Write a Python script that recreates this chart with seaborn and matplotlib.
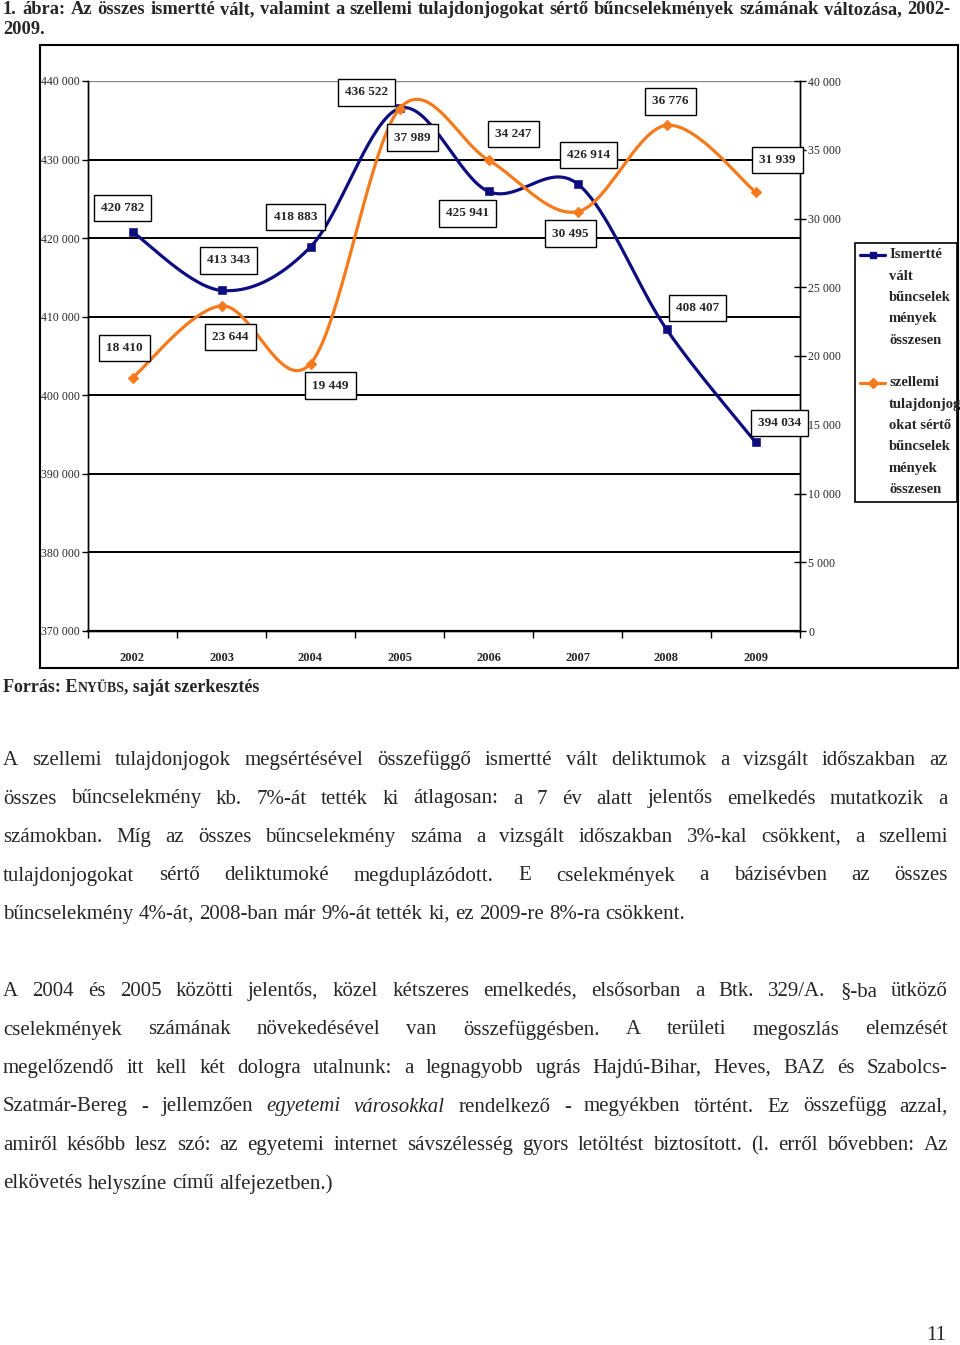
import numpy as np
import pandas as pd
import matplotlib
matplotlib.use("Agg")
import matplotlib.pyplot as plt
import seaborn as sns
from matplotlib.patches import Rectangle
from matplotlib.lines import Line2D
from matplotlib.ticker import MultipleLocator, FuncFormatter, FixedLocator
from matplotlib.transforms import IdentityTransform

# adatok
years = ["2002", "2003", "2004", "2005", "2006", "2007", "2008", "2009"]
osszes = [420782, 413343, 418883, 436522, 425941, 426914, 408407, 394034]
szellemi = [18410, 23644, 19449, 37989, 34247, 30495, 36776, 31939]

nev_osszes = ["Ismertté", "vált", "bűncselek", "mények", "összesen"]
nev_szellemi = ["szellemi", "tulajdonjog", "okat sértő", "bűncselek", "mények", "összesen"]

cim = ["1. ábra: Az összes ismertté vált, valamint a szellemi tulajdonjogokat sértő bűncselekmények számának változása, 2002-",
       "2009."]

bekezdes1 = [
    "A szellemi tulajdonjogok megsértésével összefüggő ismertté vált deliktumok a vizsgált időszakban az",
    "összes bűncselekmény kb. 7%-át tették ki átlagosan: a 7 év alatt jelentős emelkedés mutatkozik a",
    "számokban. Míg az összes bűncselekmény száma a vizsgált időszakban 3%-kal csökkent, a szellemi",
    "tulajdonjogokat sértő deliktumoké megduplázódott. E cselekmények a bázisévben az összes",
    "bűncselekmény 4%-át, 2008-ban már 9%-át tették ki, ez 2009-re 8%-ra csökkent.",
]
bekezdes2 = [
    "A 2004 és 2005 közötti jelentős, közel kétszeres emelkedés, elsősorban a Btk. 329/A. §-ba ütköző",
    "cselekmények számának növekedésével van összefüggésben. A területi megoszlás elemzését",
    "megelőzendő itt kell két dologra utalnunk: a legnagyobb ugrás Hajdú-Bihar, Heves, BAZ és Szabolcs-",
    "Szatmár-Bereg - jellemzően _egyetemi _városokkal rendelkező - megyékben történt. Ez összefügg azzal,",
    "amiről később lesz szó: az egyetemi internet sávszélesség gyors letöltést biztosított. (l. erről bővebben: Az",
    "elkövetés helyszíne című alfejezetben.)",
]

KEK = "#0d0d80"
NARANCS = "#f57a1c"
SERIF = "Liberation Serif"

sns.set_theme(style="white")
plt.rcParams["font.family"] = [SERIF, "DejaVu Serif"]

W, H = 960, 1345
fig = plt.figure(figsize=(W / 100, H / 100), dpi=100)
fig.patch.set_facecolor("white")


def fx(x):
    return x / W


def fy(y):
    return 1 - y / H


def sima(vals, n=40):
    # Excel-szeru simitott vonal (Bezier, 1/6-os feszesseg)
    p = np.column_stack([np.arange(len(vals), dtype=float), np.asarray(vals, float)])
    ext = np.vstack([p[0], p, p[-1]])
    out = []
    t = np.linspace(0, 1, n, endpoint=False)[:, None]
    for i in range(len(p) - 1):
        p0, p1, p2, p3 = ext[i], ext[i + 1], ext[i + 2], ext[i + 3]
        b1 = p1 + (p2 - p0) / 6
        b2 = p2 - (p3 - p1) / 6
        out.append((1 - t) ** 3 * p1 + 3 * (1 - t) ** 2 * t * b1 + 3 * (1 - t) * t ** 2 * b2 + t ** 3 * p2)
    out.append(p[-1:])
    return np.vstack(out)


ax = fig.add_axes([fx(88), fy(631), fx(800) - fx(88), fy(81) - fy(631)])
ax2 = ax.twinx()

g1 = sima(osszes)
g2 = sima(szellemi)
sns.lineplot(x=g1[:, 0], y=g1[:, 1], ax=ax, color=KEK, lw=2.3, sort=False, estimator=None, zorder=3)
sns.lineplot(x=g2[:, 0], y=g2[:, 1], ax=ax2, color=NARANCS, lw=2.3, sort=False, estimator=None, zorder=3)
df = pd.DataFrame({"ev": range(len(years)), "osszes": osszes, "szellemi": szellemi})
sns.scatterplot(data=df, x="ev", y="osszes", ax=ax, color=KEK, marker="s", s=30, edgecolor=KEK, zorder=4)
sns.scatterplot(data=df, x="ev", y="szellemi", ax=ax2, color=NARANCS, marker="D", s=30, edgecolor=NARANCS, zorder=4)

ax.set_xlim(-0.5, 7.5)
ax.set_ylim(370000, 440000)
ax2.set_ylim(0, 40000)
ezer = FuncFormatter(lambda v, p: f"{int(v):,}".replace(",", " "))
ax.yaxis.set_major_locator(MultipleLocator(10000))
ax.yaxis.set_major_formatter(ezer)
ax2.yaxis.set_major_locator(MultipleLocator(5000))
ax2.yaxis.set_major_formatter(ezer)
ax.grid(axis="y", color="black", lw=1.4)
ax.grid(axis="x", visible=False)
ax2.grid(False)
ax.set_xticks(range(len(years)))
ax.set_xticklabels(years, fontweight="bold", fontsize=9)
ax.xaxis.set_minor_locator(FixedLocator(np.arange(-0.5, 8, 1)))
ax.tick_params(axis="x", which="major", length=0, pad=15)
ax.tick_params(axis="x", which="minor", length=5, width=1, direction="out", color="black", bottom=True)
ax.tick_params(axis="y", length=4, width=1, direction="out", color="black", labelsize=8.5, left=True, pad=2)
ax2.tick_params(axis="y", length=8, width=1, direction="inout", color="black", labelsize=8.5, right=True, pad=2)
ax.set_xlabel("")
ax.set_ylabel("")
ax2.set_ylabel("")
for a in (ax, ax2):
    a.spines["top"].set_visible(False)
    for s in ("left", "right", "bottom"):
        a.spines[s].set_color("black")
        a.spines[s].set_linewidth(1.0)
    a.patch.set_visible(False)
ax.spines["bottom"].set_linewidth(1.6)
fig.canvas.draw()
for gl, v in zip(ax.get_ygridlines(), ax.get_yticks()):
    if v >= 440000:
        gl.set_color("#888888")
        gl.set_linewidth(1.0)

# adatfeliratok (eltolas pixelben), mind a felso tengelyen, hogy a tengelyvonal felett legyenek
elt_osszes = [(-10, 24), (7, 30), (-15, 30), (-33, 16), (-21, -22), (11, 29), (31, 21), (24, 19)]
elt_szellemi = [(-8, 30), (9, -31), (20, -22), (13, -29), (25, 26), (-7, -22), (4, 24), (22, 32)]
doboz = dict(boxstyle="square,pad=0.55", fc="white", ec="black", lw=1)
for i in range(len(years)):
    ax2.annotate(f"{osszes[i]:,}".replace(",", " "), (i, osszes[i]), xycoords=ax.transData,
                 xytext=elt_osszes[i], textcoords="offset pixels", ha="center", va="center",
                 fontsize=9.5, fontweight="bold", bbox=doboz, zorder=6, annotation_clip=False)
    ax2.annotate(f"{szellemi[i]:,}".replace(",", " "), (i, szellemi[i]), xytext=elt_szellemi[i],
                 textcoords="offset pixels", ha="center", va="center", fontsize=9.5,
                 fontweight="bold", bbox=doboz, zorder=6, annotation_clip=False)

# kulso keret
fig.patches.append(Rectangle((fx(40), fy(668)), fx(958) - fx(40), fy(45) - fy(668),
                             transform=fig.transFigure, fill=False, ec="black", lw=1.5))

# jelmagyarazat
fig.patches.append(Rectangle((fx(855), fy(502)), fx(957) - fx(855), fy(243) - fy(502),
                             transform=fig.transFigure, fc="white", ec="black", lw=1.2))
for nev, y0, szin, jel in ((nev_osszes, 255, KEK, "s"), (nev_szellemi, 383, NARANCS, "D")):
    fig.add_artist(Line2D([fx(860), fx(885)], [fy(y0), fy(y0)], transform=fig.transFigure,
                          color=szin, lw=2.3))
    fig.add_artist(Line2D([fx(872.5)], [fy(y0)], transform=fig.transFigure,
                          color=szin, marker=jel, ms=5, ls="none"))
    for k, sor in enumerate(nev):
        fig.text(fx(889), fy(y0 + k * 21.3), sor, fontsize=10.5, fontweight="bold",
                 ha="left", va="center")

# szoveg
renderer = fig.canvas.get_renderer()


def szelesseg(s, size, weight="normal", style="normal"):
    t = fig.text(0, 0, s, fontsize=size, fontweight=weight, fontstyle=style)
    w = t.get_window_extent(renderer).width
    t.remove()
    return w


def sor(y, text, x0, x1, size, weight="normal", justify=True):
    szavak = []
    for w in text.split(" "):
        if w.startswith("_"):
            szavak.append((w[1:], "italic"))
        else:
            szavak.append((w, "normal"))
    ws = [szelesseg(w, size, weight, st) for w, st in szavak]
    space = szelesseg("a a", size, weight) - szelesseg("aa", size, weight)
    if justify and len(szavak) > 1:
        gap = (x1 - x0 - sum(ws)) / (len(szavak) - 1)
    else:
        gap = space
    x = x0
    for (w, st), wi in zip(szavak, ws):
        fig.text(x, H - y, w, fontsize=size, fontweight=weight, fontstyle=st,
                 transform=IdentityTransform(), ha="left", va="baseline")
        x += wi + gap


def meret(lines, size, width, weight="normal"):
    space = szelesseg("a a", size, weight) - szelesseg("aa", size, weight)
    leg = 0
    for l in lines:
        szo = l.replace("_", "").split(" ")
        w = sum(szelesseg(s, size, weight) for s in szo) + space * (len(szo) - 1)
        leg = max(leg, w)
    return size * min(1.0, width * 0.995 / leg)


cm = meret(cim[:1], 13.5, 947, "bold")
sor(14, cim[0], 3, 950, cm, "bold", True)
sor(34, cim[1], 3, 950, cm, "bold", False)

# forras sor kiskapitalissal
x = 3
for darab, sz in (("Forrás: E", 13), ("NYÜBS", 10), (", saját szerkesztés", 13)):
    fig.text(x, H - 692, darab, fontsize=sz, fontweight="bold", transform=IdentityTransform(),
             ha="left", va="baseline")
    x += szelesseg(darab, sz, "bold")

bm = meret(bekezdes1 + bekezdes2, 15, 945)
for k, l in enumerate(bekezdes1):
    sor(765 + k * 38.5, l, 3, 948, bm, "normal", k < len(bekezdes1) - 1)
for k, l in enumerate(bekezdes2):
    sor(996 + k * 38.5, l, 3, 948, bm, "normal", k < len(bekezdes2) - 1)

fig.text(946, H - 1336, "11", fontsize=bm, transform=IdentityTransform(), ha="right", va="center")

fig.savefig("out.png", dpi=100, facecolor="white")
